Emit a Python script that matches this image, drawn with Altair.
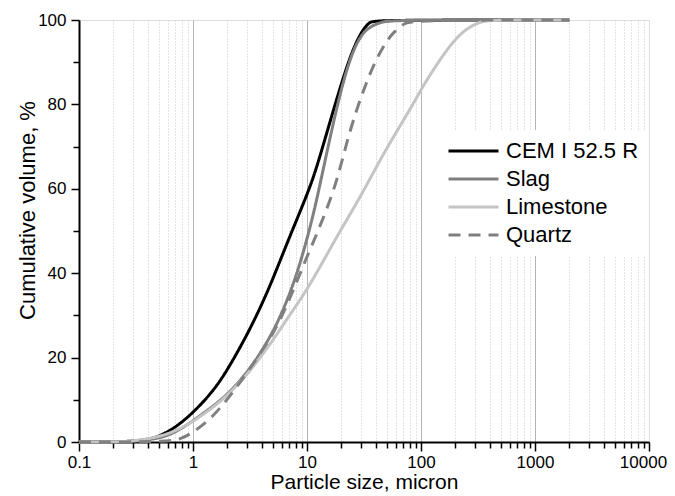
import altair as alt
import pandas as pd

# ---- data ----
series_names = ["CEM I 52.5 R", "Slag", "Limestone", "Quartz"]

cem_x = [0.1, 0.2, 0.3, 0.4, 0.5, 0.7, 1, 1.5, 2, 3, 4, 5, 7, 10, 12, 15, 20, 25, 30, 35, 40, 2000]
cem_y = [0, 0, 0.2, 0.6, 1.3, 3.4, 6.9, 12, 17, 25.5, 32.5, 38.5, 48.5, 58.5, 64.5, 73.5, 85, 92.8, 97.2, 99.5, 100, 100]

slag_x = [0.1, 0.2, 0.3, 0.5, 0.7, 1, 1.5, 2, 3, 4, 5, 6.2, 8, 10, 12, 15, 20, 25, 30, 35, 45, 60, 2000]
slag_y = [0, 0, 0.1, 0.8, 2.2, 5, 8.5, 11.2, 16.5, 21.5, 26, 31.3, 39, 48, 56.5, 69, 84, 92.5, 96.5, 98.3, 99.6, 100, 100]

lime_x = [0.1, 0.2, 0.3, 0.5, 0.7, 1, 1.5, 2, 3, 4, 5, 7, 10, 15, 20, 30, 43.6, 60, 85, 100, 120, 168, 235, 330, 400, 2000]
lime_y = [0, 0, 0.2, 1.2, 2.6, 4.8, 8.2, 11, 16, 20.5, 24, 30, 36, 44.5, 50.5, 58.5, 66.8, 73.2, 80, 83.5, 87, 93, 97.6, 99.6, 100, 100]

quartz_x = [0.1, 0.6, 0.8, 1, 1.4, 2, 3, 4, 5, 6.2, 7.6, 10, 13, 18, 22, 27, 33, 40, 50, 57, 70, 80, 2000]
quartz_y = [0, 0, 0.8, 2.3, 5.2, 10, 16.5, 21.5, 25.5, 30.5, 36, 44, 51, 61, 70.5, 78.5, 85, 90.5, 95, 97, 99, 100, 100]

x_major = [0.1, 1, 10, 100, 1000, 10000]
x_minor_mult = [2, 3, 4, 5, 6, 7, 8, 9]
y_ticks = [0, 10, 20, 30, 40, 50, 60, 70, 80, 90, 100]

line_colors = ["#000000", "#808080", "#c4c4c4", "#808080"]
line_dashes = [[1, 0], [1, 0], [1, 0], [12, 8]]

# ---- build table ----
rows = []
for i, (name, xs, ys) in enumerate(zip(series_names,
                                       [cem_x, slag_x, lime_x, quartz_x],
                                       [cem_y, slag_y, lime_y, quartz_y])):
    for k, (xv, yv) in enumerate(zip(xs, ys)):
        rows.append({"series": name, "x": xv, "y": yv, "order": i, "k": k})
df = pd.DataFrame(rows)

x_vals = []
for d in x_major[:-1]:
    x_vals.append(d)
    for m in x_minor_mult:
        x_vals.append(round(d * m, 6))
x_vals.append(x_major[-1])

major_test = "indexof([0.1, 1, 10, 100, 1000, 10000], datum.value) >= 0"
FONT = "Liberation Sans"

x_axis = alt.Axis(
    values=x_vals,
    format="~g",
    labelExpr="indexof(['0.1','1','10','100','1000','10000'], datum.label) >= 0 ? datum.label : ''",
    title="Particle size, micron",
    titleFontSize=21, titleFontWeight="normal", titleFont=FONT, titleColor="#000",
    titlePadding=1,
    labelFontSize=17, labelFont=FONT, labelColor="#000", labelPadding=3,
    labelFlush=False, labelOverlap=False,
    labelOffset={"condition": {"test": "datum.value == 10000", "value": -6}, "value": 0},
    domainColor="#000", domainWidth=2,
    tickColor="#000", tickWidth=1.5,
    tickSize={"condition": {"test": major_test, "value": 9}, "value": 6},
    grid=True,
    gridColor={"condition": {"test": major_test, "value": "#b4b4b4"}, "value": "#c8c8c8"},
    gridDash={"condition": {"test": major_test, "value": []}, "value": [1, 2]},
    gridWidth=1,
    gridOpacity={"condition": {"test": "datum.value == 0.1 || datum.value == 10000", "value": 0}, "value": 1},
)

y_axis = alt.Axis(
    values=y_ticks,
    labelExpr="datum.value % 20 == 0 ? datum.label : ''",
    title="Cumulative volume, %",
    titleFontSize=22, titleFontWeight="normal", titleFont=FONT, titleColor="#000",
    titleX=-40, titleY=190,
    labelFontSize=17, labelFont=FONT, labelColor="#000", labelPadding=5,
    labelFlush=False,
    domainColor="#000", domainWidth=2,
    tickColor="#000", tickWidth=1.5,
    tickSize={"condition": {"test": "datum.value % 20 == 0", "value": 8}, "value": 6},
    grid=False,
)

chart = alt.Chart(df).mark_line(strokeWidth=3, clip=False, interpolate="basis").encode(
    x=alt.X("x:Q", scale=alt.Scale(type="log", domain=[0.1, 10000], nice=False), axis=x_axis),
    y=alt.Y("y:Q", scale=alt.Scale(domain=[0, 100], nice=False), axis=y_axis),
    color=alt.Color("series:N",
                    scale=alt.Scale(domain=series_names, range=line_colors),
                    legend=alt.Legend(
                        title=None, orient="none", legendX=361, legendY=110,
                        fillColor="white", padding=7,
                        symbolType="stroke", symbolSize=2500, symbolStrokeWidth=3,
                        clipHeight=28, rowPadding=0, labelOffset=6,
                        labelFontSize=22, labelFont=FONT, labelColor="#000",
                        symbolOffset=0,
                    )),
    strokeDash=alt.StrokeDash("series:N",
                              scale=alt.Scale(domain=series_names, range=line_dashes),
                              legend=None),
    order=alt.Order("k:Q"),
    detail="series:N",
).properties(
    width=570, height=422,
    autosize=alt.AutoSizeParams(type="none"),
    padding={"left": 71, "top": 12, "right": 18, "bottom": 54},
).configure_view(stroke=None).configure(background="white")

chart.save("out.html", embed_options={"renderer": "svg", "actions": False})
